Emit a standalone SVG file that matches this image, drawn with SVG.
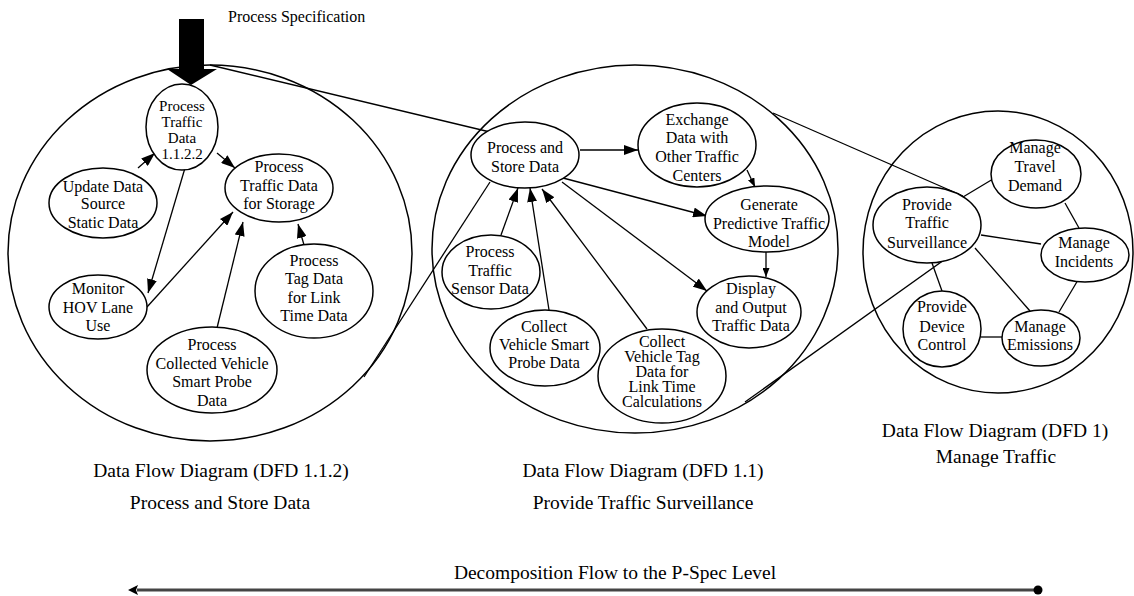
<svg xmlns="http://www.w3.org/2000/svg" width="1134" height="596" viewBox="0 0 1134 596">
<style>
.big{fill:none;stroke:#000;stroke-width:1.5}
.node ellipse{fill:#fff;stroke:#000;stroke-width:1.5}
text{font-family:"Liberation Serif","Times New Roman",serif;fill:#000}
.node text{font-size:16px;text-anchor:middle}
.node text.t{font-size:15px}
.lbl{font-size:19.5px;text-anchor:middle}
.c{stroke:#000;stroke-width:1.3;fill:none}
.a{marker-end:url(#arr)}
.as{marker-end:url(#arrs)}
</style>
<defs>
<marker id="arr" viewBox="0 0 14 10" refX="14" refY="5" markerWidth="14" markerHeight="10" markerUnits="userSpaceOnUse" orient="auto"><path d="M0,0 L14,5 L0,10 z" fill="#000"/></marker>
<marker id="arrs" viewBox="0 0 9 7" refX="9" refY="3.5" markerWidth="9" markerHeight="7" markerUnits="userSpaceOnUse" orient="auto"><path d="M0,0 L9,3.5 L0,7 z" fill="#000"/></marker>
</defs>

<g id="frames">
<ellipse class="big" cx="210" cy="253" rx="202" ry="188"/>
<ellipse class="big" cx="635" cy="249" rx="203" ry="184"/>
<ellipse class="big" cx="998" cy="252" rx="135" ry="141"/>
</g>

<g id="connectors">
<!-- zoom lines -->
<line class="c" x1="210" y1="65" x2="490" y2="132"/>
<line class="c" x1="364" y1="377" x2="490" y2="182"/>
<line class="c" x1="773" y1="113" x2="963" y2="196"/>
<line class="c" x1="745" y1="402" x2="972" y2="240"/>
<!-- left DFD -->
<line class="c a" x1="138" y1="168" x2="155" y2="153"/>
<line class="c a" x1="217" y1="153" x2="235" y2="168"/>
<line class="c a" x1="185" y1="168" x2="148" y2="293"/>
<line class="c a" x1="147" y1="307" x2="233" y2="212"/>
<line class="c a" x1="217" y1="328" x2="243" y2="222"/>
<line class="c a" x1="304" y1="245" x2="298" y2="224"/>
<!-- middle DFD -->
<line class="c a" x1="580" y1="150" x2="638" y2="150"/>
<line class="c as" x1="747" y1="170" x2="755" y2="187"/>
<line class="c a" x1="563" y1="178" x2="707" y2="216"/>
<line class="c a" x1="562" y1="182" x2="707" y2="291"/>
<line class="c as" x1="766" y1="252" x2="766" y2="277"/>
<line class="c a" x1="501" y1="235" x2="518" y2="188"/>
<line class="c a" x1="549" y1="310" x2="530" y2="188"/>
<line class="c a" x1="647" y1="329" x2="542" y2="189"/>
<!-- right DFD -->
<line class="c" x1="963" y1="197" x2="993" y2="179"/>
<line class="c" x1="1065" y1="203" x2="1079" y2="228"/>
<line class="c" x1="981" y1="235" x2="1041" y2="244"/>
<line class="c" x1="1078" y1="280" x2="1059" y2="312"/>
<line class="c" x1="975" y1="248" x2="1030" y2="311"/>
<line class="c" x1="932" y1="263" x2="942" y2="291"/>
<line class="c" x1="981" y1="337" x2="1002" y2="337"/>
</g>

<g id="pspec-arrow">
<polygon points="179,19 204,19 204,69 217,69 191,85 167,69 179,69" fill="#000"/>
<text x="228" y="22" font-size="16px">Process Specification</text>
</g>

<g id="n-ptd" class="node"><ellipse cx="182" cy="127" rx="36" ry="43"/>
<text class="t" x="182" y="111">Process</text><text class="t" x="182" y="127">Traffic</text><text class="t" x="182" y="143">Data</text><text class="t" x="182" y="159">1.1.2.2</text></g>
<g id="n-storage" class="node"><ellipse cx="279" cy="188" rx="54" ry="34"/>
<text x="279" y="172">Process</text><text x="279" y="191">Traffic Data</text><text x="279" y="209">for Storage</text></g>
<g id="n-update" class="node"><ellipse cx="103" cy="203" rx="54" ry="35"/>
<text x="103" y="192">Update Data</text><text x="103" y="209">Source</text><text x="103" y="228">Static Data</text></g>
<g id="n-hov" class="node"><ellipse cx="98" cy="307" rx="49" ry="32"/>
<text x="98" y="294">Monitor</text><text x="98" y="313">HOV Lane</text><text x="98" y="331">Use</text></g>
<g id="n-tag" class="node"><ellipse cx="314" cy="291" rx="59" ry="47"/>
<text x="314" y="266">Process</text><text x="314" y="284">Tag Data</text><text x="314" y="303">for Link</text><text x="314" y="321">Time Data</text></g>
<g id="n-probe" class="node"><ellipse cx="212" cy="370" rx="65" ry="43"/>
<text x="212" y="350">Process</text><text x="212" y="369">Collected Vehicle</text><text x="212" y="387">Smart Probe</text><text x="212" y="406">Data</text></g>

<g id="n-psd" class="node"><ellipse cx="525" cy="155" rx="54" ry="33"/>
<text x="525" y="153">Process and</text><text x="525" y="172">Store Data</text></g>
<g id="n-exch" class="node"><ellipse cx="697" cy="145" rx="59" ry="42"/>
<text x="697" y="125">Exchange</text><text x="697" y="143">Data with</text><text x="697" y="162">Other Traffic</text><text x="697" y="181">Centers</text></g>
<g id="n-gen" class="node"><ellipse cx="767" cy="219" rx="62" ry="33"/>
<text x="769" y="210">Generate</text><text x="769" y="229">Predictive Traffic</text><text x="769" y="247">Model</text></g>
<g id="n-disp" class="node"><ellipse cx="749" cy="312" rx="52" ry="36"/>
<text x="751" y="294">Display</text><text x="751" y="313">and Output</text><text x="751" y="331">Traffic Data</text></g>
<g id="n-sensor" class="node"><ellipse cx="491" cy="272" rx="49" ry="37"/>
<text x="490" y="257">Process</text><text x="490" y="276">Traffic</text><text x="490" y="294">Sensor Data</text></g>
<g id="n-smart" class="node"><ellipse cx="545" cy="348" rx="55" ry="38"/>
<text x="544" y="332">Collect</text><text x="544" y="350">Vehicle Smart</text><text x="544" y="368">Probe Data</text></g>
<g id="n-vtag" class="node"><ellipse cx="662" cy="376" rx="64" ry="47"/>
<text x="662" y="347">Collect</text><text x="662" y="362">Vehicle Tag</text><text x="662" y="377">Data for</text><text x="662" y="392">Link Time</text><text x="662" y="407">Calculations</text></g>

<g id="n-pts" class="node"><ellipse cx="927" cy="225" rx="54" ry="38"/>
<text x="927" y="210">Provide</text><text x="927" y="228">Traffic</text><text x="927" y="248">Surveillance</text></g>
<g id="n-travel" class="node"><ellipse cx="1036" cy="174" rx="45" ry="34"/>
<text x="1035" y="153">Manage</text><text x="1035" y="172">Travel</text><text x="1035" y="191">Demand</text></g>
<g id="n-inc" class="node"><ellipse cx="1085" cy="255" rx="44" ry="27"/>
<text x="1084" y="248">Manage</text><text x="1084" y="267">Incidents</text></g>
<g id="n-dev" class="node"><ellipse cx="942" cy="329" rx="39" ry="38"/>
<text x="942" y="312">Provide</text><text x="942" y="332">Device</text><text x="942" y="350">Control</text></g>
<g id="n-emis" class="node"><ellipse cx="1041" cy="338" rx="39" ry="28"/>
<text x="1040" y="332">Manage</text><text x="1040" y="350">Emissions</text></g>

<g id="labels">
<text class="lbl" x="221" y="477">Data Flow Diagram (DFD 1.1.2)</text>
<text class="lbl" x="220" y="509">Process and Store Data</text>
<text class="lbl" x="643" y="477">Data Flow Diagram (DFD 1.1)</text>
<text class="lbl" x="643" y="509">Provide Traffic Surveillance</text>
<text class="lbl" x="995" y="437">Data Flow Diagram (DFD 1)</text>
<text class="lbl" x="996" y="463">Manage Traffic</text>
<text class="lbl" x="615" y="579">Decomposition Flow to the P-Spec Level</text>
</g>

<g id="flow-arrow">
<line x1="137" y1="590" x2="1038" y2="590" stroke="#444" stroke-width="3"/>
<path d="M128,590 L138,585 L136,590 L138,595 z" fill="#000"/>
<circle cx="1038" cy="590" r="4.5" fill="#000"/>
</g>
</svg>
